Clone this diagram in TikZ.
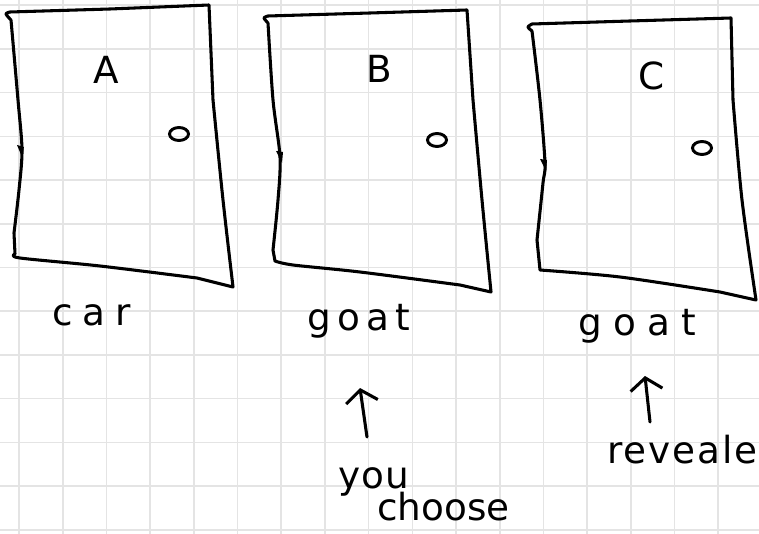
\documentclass[tikz,border=0pt]{standalone}
\usepackage{fontspec}
\newfontfamily\handfont{DejaVu Sans}
\usetikzlibrary{arrows.meta}

\definecolor{gridgray}{RGB}{228,228,228}

\begin{document}
\begin{tikzpicture}[
    x=0.75pt, y=-0.75pt,
    gridline/.style={draw=gridgray, line width=1.2pt},
    door/.style={line width=2.3pt, line join=round, line cap=round},
    knob/.style={line width=2.2pt},
    hinge/.style={fill=black, line join=round},
    letter/.style={font=\handfont\fontsize{28}{32}\selectfont, inner sep=0pt},
    hand/.style={font=\handfont\fontsize{28}{32}\selectfont\addfontfeatures{LetterSpace=#1}, inner sep=0pt, anchor=base west},
    hand/.default=0,
    pointer/.style={line width=2.3pt, line cap=round, -{Straight Barb[length=9pt, width=24pt, line width=2.3pt]}}
  ]
    \clip (0,0) rectangle (759,534);
    \fill[white] (0,0) rectangle (759,534);

    % --- squared paper ---
    \foreach \i in {0,...,16}
      \draw[gridline] ({19+43.7*\i},0) -- ({19+43.7*\i},534);
    \foreach \j in {0,...,12}
      \draw[gridline] (0,{5.3+43.7*\j}) -- (759,{5.3+43.7*\j});

    % --- door A ---
    \draw[door] plot[smooth] coordinates {(11,20) (6,14) (10,12)} -- (110,9) -- (209,5)
      -- plot[smooth] coordinates {(213,100) (223,200) (233,287)}
      -- plot[smooth] coordinates {(197,278) (100,266) (20,258) (15,254)}
      -- plot[smooth] coordinates {(14,233) (19,190) (22,150) (18,100) (11,20)};
    \fill[hinge] (17,145) -- (22,157) -- (24,147) -- cycle;
    \draw[knob] (179,134) ellipse (9.5 and 6.5);
    \node[letter] (doora) at (106,70) {A};

    % --- door B ---
    \draw[door] plot[smooth] coordinates {(268,23) (264,18) (268,16)} -- (370,13) -- (467,10)
      -- plot[smooth] coordinates {(473,100) (482,200) (491,292)}
      -- plot[smooth] coordinates {(460,285) (360,272) (293,265) (275,261)}
      -- plot[smooth] coordinates {(273,250) (278,200) (280,157) (273,100) (268,23)};
    \fill[hinge] (276,151) -- (282,163) -- (283,152) -- cycle;
    \draw[knob] (437,140) ellipse (9.5 and 6.5);
    \node[letter] (doorb) at (379,69) {B};

    % --- door C ---
    \draw[door] plot[smooth] coordinates {(532,31) (528,27) (532,24)} -- (630,21) -- (731,18)
      -- plot[smooth] coordinates {(733,100) (742,200) (756,300)}
      -- plot[smooth] coordinates {(720,292) (620,277) (540,270)}
      -- plot[smooth] coordinates {(537,240) (543,183) (545,163) (540,100) (532,31)};
    \fill[hinge] (540,159) -- (546,171) -- (547,160) -- cycle;
    \draw[knob] (702,148) ellipse (9.5 and 6.5);
    \node[letter] (doorc) at (652,76) {C};

    % --- what is behind ---
    \node[hand=26] (car) at (52,325) {car};
    \node[hand=17] (goatb) at (307,330) {goat};
    \node[hand=30] (goatc) at (578,335) {goat};

    % --- your pick ---
    \coordinate (pickTail) at (367,437);
    \coordinate (pickTip) at (360,388);
    \draw[pointer] (pickTail) -- (pickTip);
    \node[hand=3] (you) at (338,488) {you};
    \node[hand] (choose) at (377,520) {choose};

    % --- host opens ---
    \coordinate (showTail) at (650,422);
    \coordinate (showTip) at (645,376);
    \draw[pointer] (showTail) -- (showTip);
    \node[hand=5] (reveal) at (607,463) {revealed};
  \end{tikzpicture}
\end{document}
